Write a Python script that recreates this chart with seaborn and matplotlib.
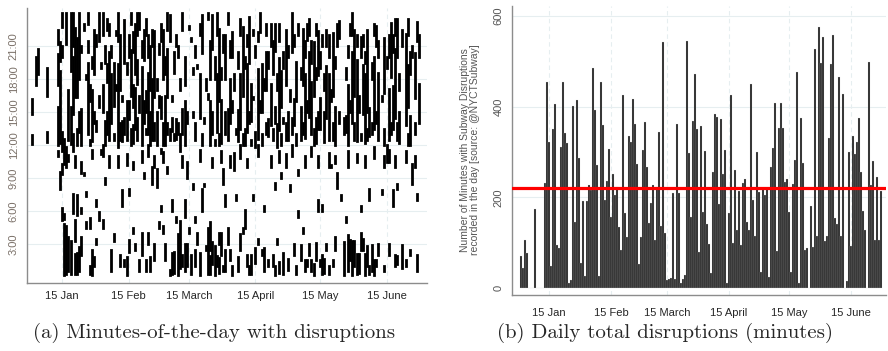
import matplotlib
matplotlib.use("Agg")
import matplotlib.pyplot as plt
import seaborn as sns
import numpy as np
import pandas as pd

# day index 0 = 1 Jan, 180 = 30 June
tick_days = [14, 45, 73, 104, 134, 165]
tick_labels = ["15 Jan", "15 Feb", "15 March", "15 April", "15 May", "15 June"]
hour_ticks = [3, 6, 9, 12, 15, 18, 21]
hour_labels = ["3:00", "6:00", "9:00", "12:00", "15:00", "18:00", "21:00"]

# (b) daily total minutes with disruptions
daily_minutes = [
    70, 45, 105, 78, 0, 0, 0, 175, 0, 0, 0, 0,
    231, 454, 323, 48, 350, 405, 95, 88, 312, 455, 341, 320, 11, 18, 402, 145,
    415, 286, 55, 191, 27, 193, 228, 217, 485, 393, 272, 26, 455, 360, 195, 236,
    306, 157, 252, 206, 222, 134, 83, 426, 165, 112, 336, 321, 417, 361, 274, 54,
    112, 305, 366, 266, 143, 187, 228, 106, 222, 345, 136, 543, 121, 18, 20, 22,
    209, 20, 361, 209, 12, 20, 29, 545, 297, 156, 368, 472, 351, 79, 358, 167,
    303, 141, 97, 33, 255, 384, 378, 186, 373, 251, 305, 11, 165, 425, 99, 261,
    128, 213, 95, 231, 240, 145, 127, 450, 195, 114, 301, 211, 35, 218, 206, 218,
    24, 266, 308, 408, 81, 354, 408, 354, 233, 241, 168, 35, 230, 283, 477, 11,
    374, 275, 83, 88, 0, 181, 90, 528, 114, 576, 497, 554, 103, 114, 330, 493,
    559, 154, 142, 466, 114, 428, 0, 16, 301, 93, 336, 295, 323, 376, 255, 169,
    128, 0, 498, 228, 281, 106, 244, 105, 214,
]
mean_minutes = 220

# (a) disrupted hour ranges per day ("start-end", hours)
day_intervals = [
    "12.1-12.9 14.8-16.2", "", "17.5-20", "18.5-20.8", "", "", "",
    "12.3-13.2 16.5-19", "", "", "", "",
    "12-15.5 17.5-20.3 21.2-22.5 11-11.5",
    "12.2-18.8 19.7-21.4 8-9.6",
    "20-21 22.8-24 11.5-13.2 9.4-10.3 5.2-6.3",
    "10.3-12.6 0.2-4.8 5.3-5.7",
    "21.2-24 10-11.8 0.3-4.6",
    "12.5-17 10.6-11.1 0.5-3.6",
    "18.8-24 12.1-15.5 0.3-3.3",
    "14.8-20 21-24 11.5-13 5.8-7.6",
    "16.4-22.7 3.3-5.2 0.3-2.1 10-11",
    "16.4-21.8 12-13.5 5.6-7.5 0.3-2.2",
    "18-24 13.2-15 0.5-2.7",
    "12-15.3 20.5-21 5.8-6.3 2-3.6 9.5-10.5",
    "22.5-23 9.3-9.5",
    "18-18.4 7.4-7.7 4.5-5",
    "13-19.5 20.5-21.5 23-24",
    "16-17.5 12-12.5 4.5-5.4 0.3-1",
    "12.4-17 19-20 0.2-2.5 10.8-11.6",
    "18.5-22.5 14-15 1-1.8",
    "13.3-14.2 21-22 3-3.5 6.5-7",
    "21.5-24 15.5-16.5 5.2-5.9",
    "11.2-11.6 19-19.5",
    "15-17.5 22-24 4.5-5.2 11-12",
    "12-14.2 19.5-21 8.5-9",
    "13-15 17.8-19.4 22.5-23.5",
    "12.5-20.5 22-23 10-11",
    "14-18.5 20-21 0.5-2.5",
    "15.6-19.5 12.5-13 3.3-3.9",
    "22-22.4 17-17.5",
    "11.8-19.4 21.5-24 10-11",
    "17-22 12.5-14 1-2",
    "12.4-14.2 16-16.5 6.5-7.9",
    "19.5-23.4 13-14.5 1-1.5",
    "12.5-16 18.5-19.5 0.2-1.8 10.2-11.2",
    "14.4-16 20-22 2.3-3.4 7.5-8",
    "16.5-20.7 12-13.5 23-24",
    "12.2-13.8 20.5-22.3 15.5-17.5 4-4.5 9.8-10.5",
    "13.5-17.2 18.5-23 2.5-3",
    "17.6-19.8 12.5-14.5 22-24",
    "22.6-24 15-16.5 0.5-1.5",
    "12-19.1 20-21.5 2-4 10.5-11.5",
    "19.8-22.5 14-16 9-9.5",
    "15-16.9 13-13.5 22-23.5 0.5-1.5",
    "13-18.6 20-22 3-4 11-12",
    "17-21 12-15 0.5-1.8",
    "12.5-18 21-22.5 8.5-10",
    "16.4-22.4 12.5-14 1.5-3 10-11",
    "12-15 17-18 8.2-9.8",
    "20.3-21.2 15.5-16.5 4.5-5",
    "14.5-16.4 21.5-23 11.3-11.7 6-6.5",
    "18-22.5 12-14 4-4.6 10.5-11.4",
    "12-16.5 18.5-20 1.5-3",
    "16.4-20.8 13-14 22.5-24 9.5-10",
    "21.5-23.9 12.5-13.5 0.2-0.6",
    "13.3-14.5 16-16.5 0.3-2.2 6-7",
    "18.6-20.5 12.5-13 0.4-2.3",
    "12.6-14.4 21-22 5-5.5",
    "0.2-3.9 13-14 20-21",
    "11.5-13 17-18 0.8-5.1",
    "13-15.3 22.5-24 1-2 10-11",
    "12-16 17.5-20 0.5-3 5.5-7",
    "1-3 14-15 9-10.5",
    "22.6-22.9 4-4.5",
    "21.5-21.8 0.3-2",
    "14.6-15 18.5-19 8-8.5",
    "12.5-14 1-2.5 5-5.5 20-21",
    "19-19.3 3-4",
    "14.5-18.5 0.2-2.2 22-23 10.6-11.6",
    "20.4-23.9 12-13 6-8",
    "8.3-8.5 14-14.5",
    "2.5-2.8 17-18",
    "16.2-16.7 23.5-24 0.3-4.5",
    "12-16 18-21.5 0.3-1.9 2.5-5",
    "20.8-23.9 13-15 1.2-3.2 10-10.8",
    "0.2-2.8 18-20 12-12.5",
    "13.2-18.5 22-24 1-1.9",
    "16-22.6 12-13 0.4-1.7 3-4",
    "12.2-16.1 18-19 2-4 10.5-11.5",
    "8.5-9.8 20.5-22 0.5-1",
    "18-22 13-15 0.5-2.5 6.5-7.5",
    "12.5-15.3 23-24 3-4.5",
    "14-18 20-21.5 1.5-2.5 10-11",
    "20-22.3 15-16 0.2-1",
    "9.7-11.3 17-18.5",
    "7-7.5 13-13.5",
    "12.4-15.2 19-20.5 0.5-1.8",
    "13.5-18.5 22-23.5 2.5-3.9 10.8-12",
    "16.5-22.8 12-13 4-4.5",
    "12-13.5 4.5-6.1 19-20",
    "13.2-19.4 21-22 1-2 10-10.7",
    "19.5-23.7 14-15 0.3-1",
    "14.2-17.6 12-12.5 0.3-2",
    "16.2-16.4 22-22.5 7-7.5",
    "11.8-13.2 1.3-2.6 20-21",
    "12.6-18.9 21.5-22.3 3-3.5 11-12",
    "22.3-24 15-16",
    "15-19.4 12-13 2-2.5",
    "0.5-2.6 17-18 6-6.5",
    "17-20.5 13-14 22-23",
    "12.8-14.4 19-20.5 1-1.5",
    "13.8-17.6 21-23 10-11",
    "18.5-21.5 12.5-13.5 1-2",
    "20.6-23 14-15.5 0.2-1 8-8.6",
    "11.8-13.9 17-18.5 3-3.5",
    "13.4-19.9 21.5-23 0.4-1.4 10.5-11.5",
    "15.5-18.8 12-13 9-9.5",
    "0.3-2.2 19-20.5 14-14.5",
    "17.5-22.5 12.5-14 10-11.2",
    "12.5-15 0.6-1.6 20-21",
    "7.8-8.4 16-17",
    "20.5-24 13-14.5 11-12",
    "13.8-16.2 2-3 21-22",
    "16-19.6 12-13 0.3-1",
    "9.3-9.7 22-23 5.5-6",
    "12.5-15.5 1.5-2.9 18-19",
    "17.5-22.6 13-14 4-4.5",
    "12.7-18.5 0.5-1.5 20-21.5 10-11",
    "21.6-23 15-16 1-1.5",
    "14.6-20.5 22-23.5 2-3",
    "13-17.8 19.5-21.5 0.5-1.5 11-11.8",
    "16.5-21.4 0.2-1.2 12-13.5",
    "12.2-14.5 1.5-3.1 18-19 22-23",
    "18.4-22.4 13.5-15 6-7 10-11",
    "13.5-16.3 19-20.5 1-1.5",
    "6-6.6 21-22 0.3-2",
    "12.3-15 0.4-1.6 17-18.5",
    "14.5-19.2 21-22.5 2.5-3",
    "12.5-18.5 20-22 0.3-1 10-11.3",
    "10-10.2 16-17",
    "16.5-22.2 1-1.5 12.5-14",
    "12-15.5 2.5-3.6 19-20 10.4-11",
    "8.1-9.5 21-23",
    "21.8-23.3 14-15",
    "7-7.5",
    "0.2-3.2 13-14.5",
    "13.2-14.7 18-19 5-5.5",
    "12-17.5 0.5-3.8 20-21 10-11.5",
    "1.5-3.4 15-16 22-23",
    "14-20.5 0.2-3.3 22-24",
    "16.5-22.5 1-3.3 12.5-14",
    "12.4-19.8 0.3-2.1 21-22 10.5-11.2",
    "0.4-2.1 15-16.5",
    "20-21.9 12.5-13 2.5-4 6-6.5",
    "14.8-19.3 2.5-3.5 21-22",
    "12.2-18.5 0.2-2.1 19.5-20.5 10-11",
    "15-22.5 1-2.8 12.5-13.5",
    "12.8-15.4 0.3-1 7-8",
    "0.5-2.9 18-19.5 13-14",
    "13.5-20 0.2-1.5 22-23 10.8-11.8",
    "21-22.9 14-15 1-1.5",
    "12.5-18.6 2-3 20-21.5",
    "",
    "7.6-7.9 16-16.5",
    "16.8-21.8 12-13.5 0.5-1 10-11",
    "10.5-12 19-20",
    "12.5-17.1 2-3 20-22 10.5-11.6",
    "18.2-23.1 13-14",
    "13.5-17.4 6.5-7.9 20.5-22",
    "14.5-20.8 22-23.5 1-2 10-11",
    "20-23.5 1.2-1.9 12.5-14 8-8.5",
    "12.2-15 17-18.5",
    "0.8-2.9 21-22.5",
    "",
    "13.8-22.1 1-1.5 10.5-11.5",
    "15.5-19.3 12-13 22-23.5",
    "12-14.7 18.5-20.5 2-2.5",
    "8.5-10.3 20-21",
    "16.3-20.4 13-14 10-11",
    "21.5-23.2 0.5-2 7-7.6",
    "14-17.6 20-22",
]

rows = []
for day, spec in enumerate(day_intervals):
    for piece in spec.split():
        a, b = piece.split("-")
        rows.append((day, float(a), float(b)))
spans = pd.DataFrame(rows, columns=["day", "start", "end"])

bars = pd.DataFrame({"day": np.arange(len(daily_minutes)), "minutes": daily_minutes})

sns.set_style("white")
tick_font = ["Liberation Sans Narrow", "Liberation Sans", "DejaVu Sans"]
plt.rcParams["font.family"] = tick_font

fig = plt.figure(figsize=(8.88, 3.51), dpi=100)
ax1 = fig.add_axes([27 / 888, 68 / 351, 400 / 888, 275 / 351])
ax2 = fig.add_axes([512 / 888, 56 / 351, 374 / 888, 289 / 351])

grid_c = "#e6eef0"
axis_c = "#8c8c8c"

# ---- (a) minutes of the day ----
for y in hour_ticks:
    ax1.axhline(y, color=grid_c, lw=0.8, zorder=0)
for x in tick_days:
    ax1.axvline(x, color=grid_c, lw=0.8, ls=(0, (4, 3)), zorder=0)
lc = ax1.vlines(spans["day"], spans["start"], spans["end"], colors="black", linewidth=2.0)
lc.set_capstyle("projecting")
ax1.set_xlim(-2.3, 183.8)
ax1.set_ylim(-0.55, 24.5)
ax1.set_yticks(hour_ticks)
ax1.set_yticklabels(hour_labels, rotation=90, va="center", color="#7a7068")
ax1.set_xticks(tick_days)
ax1.set_xticklabels(tick_labels)

# ---- (b) daily totals ----
for y in [200, 400, 600]:
    ax2.axhline(y, color=grid_c, lw=0.8, zorder=0)
for x in tick_days:
    ax2.axvline(x, color=grid_c, lw=0.8, ls=(0, (4, 3)), zorder=0)
sns.barplot(data=bars, x="day", y="minutes", native_scale=True, errorbar=None,
            color="#262626", saturation=1, width=1.0, edgecolor="#d8d8d8",
            linewidth=0.15, ax=ax2, zorder=2)
ax2.axhline(mean_minutes, color="#ff0000", lw=2.3, zorder=3)
ax2.set_xlim(-4.5, 182.5)
ax2.set_ylim(-15.4, 622)
ax2.set_yticks([0, 200, 400, 600])
ax2.set_yticklabels(["0", "200", "400", "600"], rotation=90, va="center", color="#555555")
ax2.set_xticks(tick_days)
ax2.set_xticklabels(tick_labels)
ax2.set_xlabel("")
ax2.set_ylabel("")

for ax in (ax1, ax2):
    for s in ["top", "right"]:
        ax.spines[s].set_visible(False)
    for s in ["left", "bottom"]:
        ax.spines[s].set_color(axis_c)
        ax.spines[s].set_linewidth(1.0)
    ax.tick_params(axis="both", direction="out", length=4, width=0.8, color=axis_c,
                   labelsize=8, pad=2)

ax2.tick_params(axis="x", pad=5)

fig.text(470 / 888, 1 - 150 / 351,
         "Number of Minutes with Subway Disruptions\nrecorded in the day [source: @NYCTSubway]",
         rotation=90, ha="center", va="center", fontsize=7.5, color="#555555",
         family=["Liberation Sans", "DejaVu Sans"], linespacing=1.05)

cap_font = ["cmr10", "DejaVu Serif"]
fig.text(214 / 888, 1 - 333 / 351, "(a) Minutes-of-the-day with disruptions",
         ha="center", va="center", fontsize=15, family=cap_font)
fig.text(665 / 888, 1 - 333 / 351, "(b) Daily total disruptions (minutes)",
         ha="center", va="center", fontsize=15, family=cap_font)

fig.savefig("out.png", dpi=100)
